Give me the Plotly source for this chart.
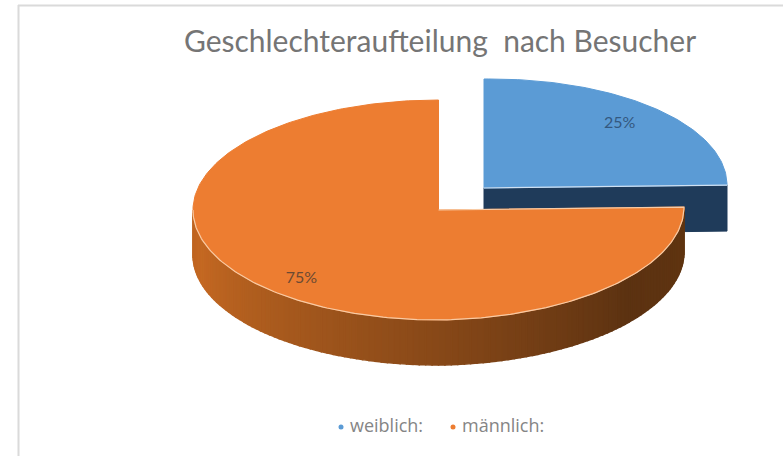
import math
import plotly.graph_objects as go

# ---- data ----
TITLE = "Geschlechteraufteilung  nach Besucher"
categories = ["weiblich:", "männlich:"]
shares = [25, 75]

# ---- styling ----
W, H = 783, 456
top_colors = ["#5B9BD5", "#ED7D31"]
side_color_blue = "#1F3B5A"
rim_colors = ["#CFE0F2", "#F8CBA5"]
# pixel geometry of each (exploded) slice: centre x, centre y, radii, depth
geom = [dict(cx=484, cy=188, rx=243, ry=109, d=46),
        dict(cx=438.5, cy=210, rx=245.5, ry=110, d=45)]
tilt = 0.012  # slight perspective of the right-hand half
wall_stops = [(90, (96, 53, 16)), (130, (92, 50, 17)), (180, (135, 72, 24)),
              (225, (172, 92, 30)), (255, (196, 104, 34)), (270, (190, 100, 32))]


def pt(g, t, dz=0.0):
    r = math.radians(t)
    dx = g["rx"] * math.sin(r)
    return g["cx"] + dx, g["cy"] - g["ry"] * math.cos(r) + dz - tilt * max(dx, 0)


def arc(g, a, b, dz=0.0, step=1.0):
    n = max(2, int(abs(b - a) / step) + 1)
    return [pt(g, a + (b - a) * i / (n - 1), dz) for i in range(n)]


def wall_color(t):
    for (a, ca), (b, cb) in zip(wall_stops, wall_stops[1:]):
        if a <= t <= b:
            f = (t - a) / (b - a)
            c = [round(x + (y - x) * f) for x, y in zip(ca, cb)]
            return "rgb(%d,%d,%d)" % tuple(c)
    return "rgb(%d,%d,%d)" % wall_stops[-1][1]


def poly(points, fill, line=None, width=1, closed=True):
    xs = [p[0] for p in points]
    ys = [p[1] for p in points]
    if closed:
        xs.append(xs[0])
        ys.append(ys[0])
    return go.Scatter(x=xs, y=ys, mode="lines", fill="toself" if fill else None,
                      fillcolor=fill, line=dict(color=line or fill or "rgba(0,0,0,0)", width=width),
                      hoverinfo="skip", showlegend=False)


fig = go.Figure()
total = sum(shares)
start = 0.0
slices = []
for v in shares:
    sweep = 360.0 * v / total
    slices.append((start, start + sweep))
    start += sweep

# slice 0: cut face and top
g = geom[0]
a, b = slices[0]
c = (g["cx"], g["cy"])
e = pt(g, b)
fig.add_trace(poly([c, e, pt(g, b, g["d"]), (c[0], c[1] + g["d"])], side_color_blue))
fig.add_trace(poly([c] + arc(g, a, b), top_colors[0]))
fig.add_trace(poly([c, e], None, rim_colors[0], 1.2, closed=False))

# slice 1: front wall, top, rim
g = geom[1]
a, b = slices[1]
vis_end = 270.0
t = a
seg = 1.5
while t < vis_end:
    t2 = min(t + seg, vis_end)
    upper = arc(g, t, t2)
    lower = arc(g, t2, t, g["d"])
    col = wall_color((t + t2) / 2)
    fig.add_trace(poly(upper + lower, col, col, 1.5))
    t = t2
c = (g["cx"], g["cy"])
fig.add_trace(poly([c] + arc(g, a, b), top_colors[1]))
fig.add_trace(poly([c] + arc(g, a, vis_end), None, rim_colors[1], 1.2, closed=False))

# percentage labels placed from each slice's mid angle
fx, fy, shift = 0.79, 0.856, 2.4
lx, ly, lt = [], [], []
for g, (a, b), v in zip(geom, slices, shares):
    m = math.radians((a + b) / 2)
    lx.append(g["cx"] + fx * g["rx"] * math.sin(m))
    ly.append(g["cy"] + shift - fy * g["ry"] * math.cos(m))
    lt.append(f"{v}%")
fig.add_trace(go.Scatter(x=lx, y=ly, text=lt, mode="text", showlegend=False, hoverinfo="skip",
                         textposition="middle center",
                         textfont=dict(family="Lato", size=16, color=["#34587F", "#6B4A33"])))

# legend row
legend_x = [341, 453]
legend_y = 427
fig.add_trace(go.Scatter(x=legend_x, y=[legend_y] * 2, mode="markers", hoverinfo="skip", showlegend=False,
                         marker=dict(color=top_colors, size=5, symbol="circle")))
fig.add_trace(go.Scatter(x=[v + 9 for v in legend_x], y=[legend_y] * 2, mode="text", text=categories,
                         textposition="middle right", hoverinfo="skip", showlegend=False,
                         textfont=dict(family="Open Sans", size=18, color="#858585")))

frame = "#DADADA"
fig.update_layout(
    width=W, height=H, autosize=False,
    margin=dict(l=0, r=0, t=0, b=0),
    paper_bgcolor="white", plot_bgcolor="white",
    title=dict(text=TITLE, x=440 / W, y=1 - 41 / H, xanchor="center", yanchor="middle",
               font=dict(family="Lato", size=30, color="#757575")),
    xaxis=dict(range=[0, W], visible=False, fixedrange=True),
    yaxis=dict(range=[H, 0], visible=False, fixedrange=True),
    showlegend=False,
    shapes=[dict(type="line", x0=18.5, x1=18.5, y0=5, y1=H, line=dict(color=frame, width=2)),
            dict(type="line", x0=18, x1=W, y0=5.5, y1=5.5, line=dict(color=frame, width=2))],
)
fig.write_html("out.html", config=dict(displayModeBar=False),
               post_script="document.body.style.margin='0';document.body.style.overflow='hidden';")
